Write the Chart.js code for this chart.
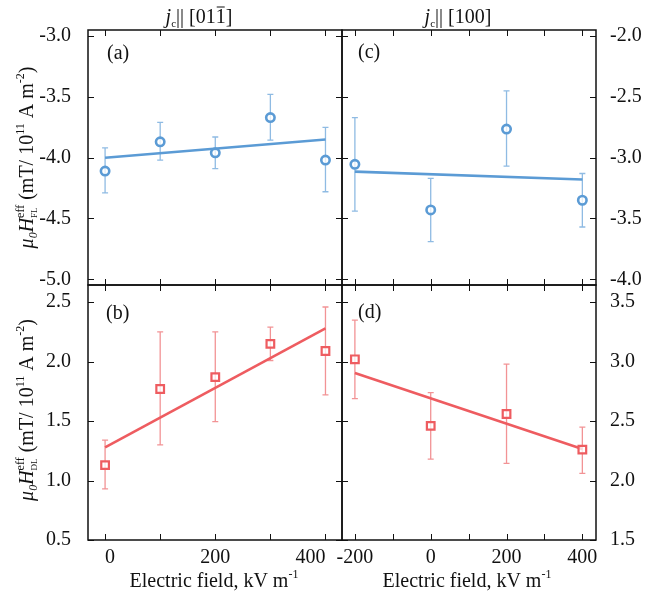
<!DOCTYPE html>
<html>
<head>
<meta charset="utf-8">
<script src="https://cdn.jsdelivr.net/npm/chart.js@4.4.0/dist/chart.umd.min.js"></script>
<style>
  body { margin: 0; background: #fff; }
  #wrap { position: relative; width: 657px; height: 597px; }
  #wrap canvas { position: absolute; left: 0; top: 0; }
</style>
</head>
<body>
<div id="wrap">
  <canvas id="panelA" width="657" height="597"></canvas>
  <canvas id="panelB" width="657" height="597"></canvas>
  <canvas id="panelC" width="657" height="597"></canvas>
  <canvas id="panelD" width="657" height="597"></canvas>
</div>
<script>
// Electric field values (kV/m)
var fieldLeft = [0, 100, 200, 300, 400];
var fieldRight = [-200, 0, 200, 400];
var fitXLeft = [0, 400];
var fitXRight = [-200, 400];

// (a) field-like, jc || [01-1]
var flA = [-4.11, -3.87, -3.96, -3.67, -4.02];
var flAHigh = [-3.92, -3.71, -3.83, -3.48, -3.75];
var flALow = [-4.29, -4.02, -4.09, -3.855, -4.28];
var fitA = [-4.00, -3.85];

// (b) damping-like, jc || [01-1]
var dlB = [1.13, 1.77, 1.87, 2.15, 2.09];
var dlBHigh = [1.34, 2.25, 2.25, 2.29, 2.46];
var dlBLow = [0.93, 1.30, 1.495, 2.01, 1.72];
var fitB = [1.28, 2.28];

// (c) field-like, jc || [100]
var flC = [-3.055, -3.43, -2.765, -3.35];
var flCHigh = [-2.67, -3.17, -2.45, -3.13];
var flCLow = [-3.44, -3.69, -3.07, -3.57];
var fitC = [-3.115, -3.18];

// (d) damping-like, jc || [100]
var dlD = [3.02, 2.46, 2.56, 2.26];
var dlDHigh = [3.35, 2.74, 2.98, 2.45];
var dlDLow = [2.69, 2.18, 2.145, 2.06];
var fitD = [2.905, 2.265];

var BLUE = '#5B9BD5', BLUE_ERR = '#8FBBE3';
var RED = '#EE5C60', RED_ERR = '#F29395';
var FONT = 'Liberation Serif';

function pts(xs, ys) {
  return xs.map(function (x, i) { return { x: x, y: ys[i] }; });
}

// rich text: parts with size, italic, vertical shift, stacking, overbar
function drawRich(ctx, parts, x, y, align, rotate) {
  var w = 0, lay = [];
  parts.forEach(function (p) {
    ctx.font = (p.it ? 'italic ' : '') + p.s + 'px "' + FONT + '"';
    var pw = ctx.measureText(p.t).width;
    if (p.stack) {
      var prev = lay[lay.length - 1];
      lay.push({ p: p, x: prev.x, w: pw });
      w = Math.max(w, prev.x + pw);
    } else {
      lay.push({ p: p, x: w, w: pw });
      w += pw;
    }
  });
  var start = align === 'center' ? -w / 2 : 0;
  ctx.save();
  ctx.translate(x, y);
  if (rotate) ctx.rotate(-Math.PI / 2);
  ctx.fillStyle = '#111';
  ctx.strokeStyle = '#111';
  ctx.textBaseline = 'alphabetic';
  ctx.textAlign = 'left';
  lay.forEach(function (l) {
    var p = l.p;
    ctx.font = (p.it ? 'italic ' : '') + p.s + 'px "' + FONT + '"';
    ctx.fillText(p.t, start + l.x, p.dy || 0);
    if (p.bar) {
      ctx.lineWidth = 1;
      ctx.beginPath();
      ctx.moveTo(start + l.x + 1, -p.s * 0.8);
      ctx.lineTo(start + l.x + l.w - 1, -p.s * 0.8);
      ctx.stroke();
    }
  });
  ctx.restore();
}

var titleFL = [
  { t: 'μ', it: true, s: 20 }, { t: '0', it: true, s: 12, dy: 4 },
  { t: 'H', it: true, s: 20 }, { t: 'eff', s: 12, dy: -9 }, { t: 'FL', s: 9, dy: 4, stack: true },
  { t: ' (mT/ 10', s: 20 }, { t: '11', s: 12, dy: -9 },
  { t: ' A m', s: 20 }, { t: '-2', s: 12, dy: -9 }, { t: ')', s: 20 }
];
var titleDL = [
  { t: 'μ', it: true, s: 20 }, { t: '0', it: true, s: 12, dy: 4 },
  { t: 'H', it: true, s: 20 }, { t: 'eff', s: 12, dy: -9 }, { t: 'DL', s: 9, dy: 4, stack: true },
  { t: ' (mT/ 10', s: 20 }, { t: '11', s: 12, dy: -9 },
  { t: ' A m', s: 20 }, { t: '-2', s: 12, dy: -9 }, { t: ')', s: 20 }
];
var titleField = [{ t: 'Electric field, kV m', s: 20 }, { t: '-1', s: 12, dy: -9 }];
var titleLeftCol = [
  { t: 'j', it: true, s: 20 }, { t: 'c', s: 11, dy: 4 },
  { t: '|| [01', s: 20 }, { t: '1', s: 20, bar: true }, { t: ']', s: 20 }
];
var titleRightCol = [
  { t: 'j', it: true, s: 20 }, { t: 'c', s: 11, dy: 4 }, { t: '|| [100]', s: 20 }
];

// frame, inward ticks, error bars and texts
var panelPlugin = {
  id: 'panel',
  beforeDatasetsDraw: function (chart) {
    var ctx = chart.ctx, xs = chart.scales.x, ys = chart.scales.y;
    chart.data.datasets.forEach(function (ds) {
      if (!ds.errLow) return;
      ctx.save();
      ctx.strokeStyle = ds.errColor;
      ctx.lineWidth = 1.3;
      ds.data.forEach(function (d, i) {
        var px = xs.getPixelForValue(d.x);
        var hi = ys.getPixelForValue(ds.errHigh[i]);
        var lo = ys.getPixelForValue(ds.errLow[i]);
        ctx.beginPath();
        ctx.moveTo(px, hi); ctx.lineTo(px, lo);
        ctx.moveTo(px - 3, hi); ctx.lineTo(px + 3, hi);
        ctx.moveTo(px - 3, lo); ctx.lineTo(px + 3, lo);
        ctx.stroke();
      });
      ctx.restore();
    });
  },
  afterDraw: function (chart, args, opts) {
    var ctx = chart.ctx, xs = chart.scales.x, ys = chart.scales.y, a = chart.chartArea;
    ctx.save();
    ctx.strokeStyle = '#111';
    ctx.lineWidth = 1;
    ctx.beginPath();
    xs.ticks.forEach(function (t) {
      var px = Math.round(xs.getPixelForValue(t.value)) + 0.5;
      ctx.moveTo(px, a.bottom); ctx.lineTo(px, a.bottom - 6);
      ctx.moveTo(px, a.top); ctx.lineTo(px, a.top + 6);
    });
    ys.ticks.forEach(function (t) {
      var py = Math.round(ys.getPixelForValue(t.value)) + 0.5;
      ctx.moveTo(a.left, py); ctx.lineTo(a.left + 6, py);
      ctx.moveTo(a.right, py); ctx.lineTo(a.right - 6, py);
    });
    ctx.stroke();
    ctx.lineWidth = 1.5;
    ctx.strokeRect(a.left, a.top, a.right - a.left, a.bottom - a.top);
    ctx.restore();
    (opts.texts || []).forEach(function (tx) {
      drawRich(ctx, tx.parts, tx.x, tx.y, tx.align, tx.rotate);
    });
  }
};

function yAxis(min, max, pos, width, pad) {
  return {
    type: 'linear', position: pos, min: min, max: max,
    grid: { display: false }, border: { display: false },
    ticks: {
      stepSize: 0.5, includeBounds: false, padding: pad, color: '#111',
      font: { family: FONT, size: 20 },
      callback: function (v) { return v.toFixed(1); }
    },
    afterFit: function (s) { s.width = width; }
  };
}

function xAxis(min, max, labelled, align) {
  return {
    type: 'linear', position: 'bottom', min: min, max: max,
    grid: { display: false }, border: { display: false },
    ticks: {
      display: labelled, stepSize: 100, includeBounds: false, autoSkip: false,
      maxRotation: 0, padding: -2, align: align, color: '#111',
      font: { family: FONT, size: 20 },
      callback: function (v) { return v % 200 === 0 ? String(v) : ''; }
    },
    afterFit: function (s) { s.height = labelled ? 57 : 0; }
  };
}

function makePanel(id, cfg) {
  var isCircle = cfg.style === 'circle';
  new Chart(document.getElementById(id), {
    type: 'scatter',
    data: {
      datasets: [
        {
          data: pts(cfg.xs, cfg.ys),
          errHigh: cfg.hi, errLow: cfg.lo, errColor: cfg.errColor,
          pointStyle: isCircle ? 'circle' : 'rect',
          pointRadius: isCircle ? 4.2 : 5.4,
          pointBorderWidth: isCircle ? 2.6 : 2.2,
          borderColor: cfg.color,
          backgroundColor: 'rgba(255,255,255,0.75)',
          order: 1
        },
        {
          data: pts(cfg.fitX, cfg.fitY),
          showLine: true, pointRadius: 0,
          borderColor: cfg.color, borderWidth: 2.6,
          order: 2
        }
      ]
    },
    options: {
      responsive: false,
      animation: false,
      layout: { padding: cfg.padding },
      scales: { x: cfg.x, y: cfg.y },
      plugins: {
        legend: { display: false },
        tooltip: { enabled: false },
        panel: { texts: cfg.texts }
      }
    },
    plugins: [panelPlugin]
  });
}

makePanel('panelA', {
  xs: fieldLeft, ys: flA, hi: flAHigh, lo: flALow, fitX: fitXLeft, fitY: fitA,
  style: 'circle', color: BLUE, errColor: BLUE_ERR,
  padding: { left: 0, top: 30, right: 315, bottom: 312 },
  x: xAxis(-31, 430, false, 'center'),
  y: yAxis(-5.047, -2.95, 'left', 88, 9),
  texts: [
    { parts: titleLeftCol, x: 199, y: 23, align: 'center' },
    { parts: titleFL, x: 33, y: 157.5, align: 'center', rotate: true },
    { parts: [{ t: '(a)', s: 20 }], x: 107, y: 59 }
  ]
});

makePanel('panelB', {
  xs: fieldLeft, ys: dlB, hi: dlBHigh, lo: dlBLow, fitX: fitXLeft, fitY: fitB,
  style: 'rect', color: RED, errColor: RED_ERR,
  padding: { left: 0, top: 285, right: 315, bottom: 0 },
  x: xAxis(-31, 430, true, 'inner'),
  y: yAxis(0.5, 2.645, 'left', 88, 9),
  texts: [
    { parts: titleDL, x: 33, y: 410, align: 'center', rotate: true },
    { parts: titleField, x: 214, y: 587, align: 'center' },
    { parts: [{ t: '(b)', s: 20 }], x: 106, y: 319 }
  ]
});

makePanel('panelC', {
  xs: fieldRight, ys: flC, hi: flCHigh, lo: flCLow, fitX: fitXRight, fitY: fitC,
  style: 'circle', color: BLUE, errColor: BLUE_ERR,
  padding: { left: 342, top: 30, right: 0, bottom: 312 },
  x: xAxis(-234, 436, false, 'center'),
  y: yAxis(-4.047, -1.95, 'right', 61, 6),
  texts: [
    { parts: titleRightCol, x: 458, y: 23, align: 'center' },
    { parts: [{ t: '(c)', s: 20 }], x: 358, y: 58 }
  ]
});

makePanel('panelD', {
  xs: fieldRight, ys: dlD, hi: dlDHigh, lo: dlDLow, fitX: fitXRight, fitY: fitD,
  style: 'rect', color: RED, errColor: RED_ERR,
  padding: { left: 342, top: 285, right: 0, bottom: 0 },
  x: xAxis(-234, 436, true, 'center'),
  y: yAxis(1.5, 3.645, 'right', 61, 6),
  texts: [
    { parts: titleField, x: 467, y: 587, align: 'center' },
    { parts: [{ t: '(d)', s: 20 }], x: 358, y: 318 }
  ]
});
</script>
</body>
</html>
